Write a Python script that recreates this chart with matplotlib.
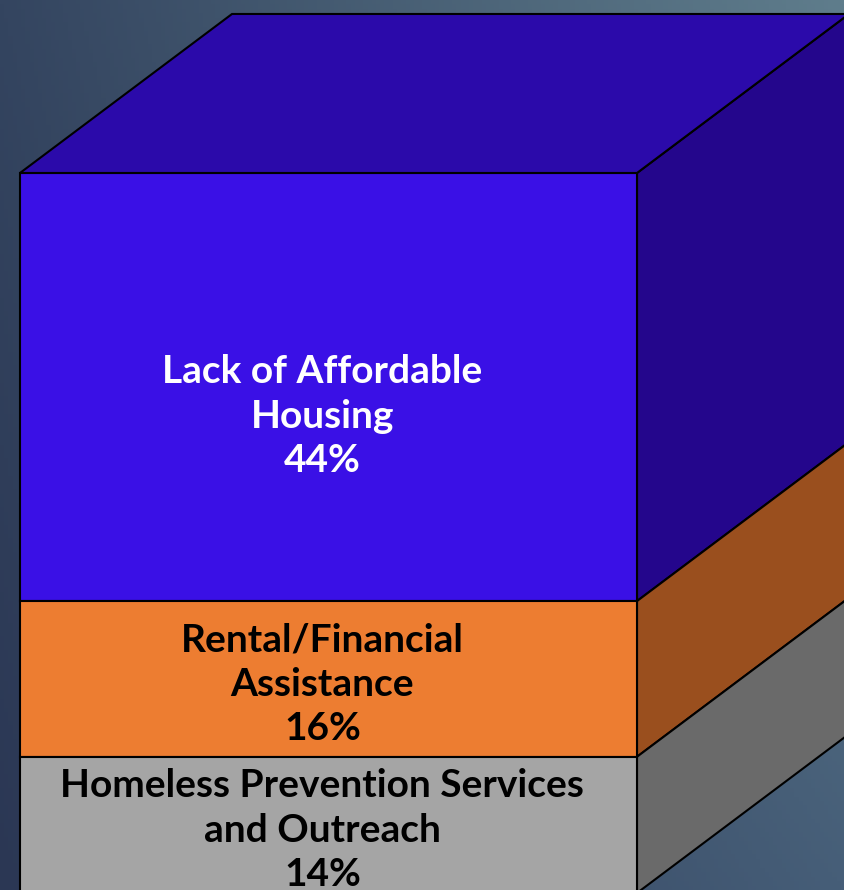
import numpy as np
import matplotlib.pyplot as plt
from matplotlib.patches import Polygon

# stacked segments, top to bottom
labels = ["Lack of Affordable\nHousing\n44%",
          "Rental/Financial\nAssistance\n16%",
          "Homeless Prevention Services\nand Outreach\n14%"]
values = [44, 16, 14]
front_cols = ["#3a10e6", "#ed7d31", "#a5a5a5"]
side_cols = ["#24068c", "#9a4f1e", "#6a6a6a"]
top_col = "#2b0aaa"
text_cols = ["white", "black", "black"]

W, H = 845, 890
fig = plt.figure(figsize=(W / 100, H / 100), dpi=100)
ax = fig.add_axes([0, 0, 1, 1])

# pixel scale of the chart (front face 617 px wide, 9.73 px per percent)
px_x = 617.0
px_y = 9.73
x0_px, y0_px = 20, 893
xl = (-x0_px / px_x, (W - x0_px) / px_x)
yl = ((y0_px - H) / px_y, y0_px / px_y)
ax.axis("off")

# background gradient (dark left/bottom, lighter top right)
xs = np.linspace(0, 1, 200)
ys = np.linspace(0, 1, 200)
gx, gy = np.meshgrid(xs, ys)
gx, gy = gx[..., None], gy[..., None]
tl = np.array([0x34, 0x45, 0x60]) / 255
tr = np.array([0x5f, 0x7d, 0x8c]) / 255
bl = np.array([0x2b, 0x37, 0x54]) / 255
br = np.array([0x46, 0x5e, 0x78]) / 255
img = ((1 - gx) * (1 - gy) * tl + gx * (1 - gy) * tr
       + (1 - gx) * gy * bl + gx * gy * br)
ax.imshow(img, extent=[xl[0], xl[1], yl[0], yl[1]], origin="upper",
          aspect="auto", zorder=0)
ax.set_xlim(*xl)
ax.set_ylim(*yl)

dx = 212 / px_x
dy = 159 / px_y
bw = 1.0
top = sum(values)

for i, v in enumerate(values):
    yt = top
    yb = top - v
    # right face
    ax.add_patch(Polygon([(bw, yb), (bw + dx, yb + dy), (bw + dx, yt + dy), (bw, yt)],
                         closed=True, fc=side_cols[i], ec="black", lw=1.5, zorder=2))
    # front face
    ax.add_patch(Polygon([(0, yb), (bw, yb), (bw, yt), (0, yt)],
                         closed=True, fc=front_cols[i], ec="black", lw=1.5, zorder=3))
    if i == 0:
        ax.add_patch(Polygon([(0, yt), (dx, yt + dy), (bw + dx, yt + dy), (bw, yt)],
                             closed=True, fc=top_col, ec="black", lw=1.5, zorder=3))
    ym = (yt + yb) / 2
    if i == 0:
        ym -= 3.0
    else:
        ym -= 0.55
    ax.text(0.49 * bw, ym, labels[i], ha="center", va="center", color=text_cols[i],
            fontsize=28, fontweight="bold", family="Lato", linespacing=1.32, zorder=4)
    top = yb

fig.savefig("out.png", dpi=100)
